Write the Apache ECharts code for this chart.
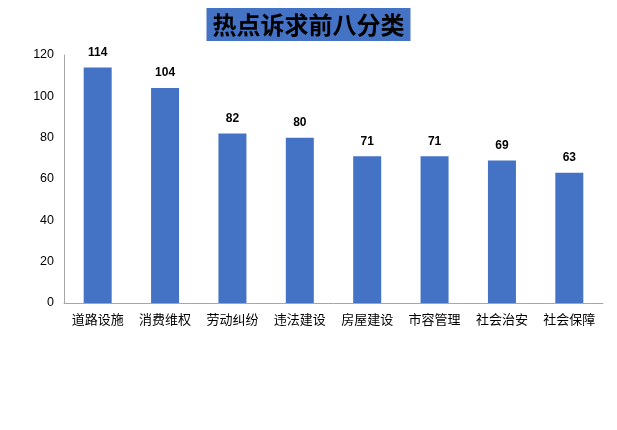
<!DOCTYPE html>
<html><head><meta charset="utf-8">
<script src="https://cdn.jsdelivr.net/npm/echarts@6/dist/echarts.min.js"></script>
<style>html,body{margin:0;padding:0;background:#fff}#c{width:617px;height:430px}</style>
</head><body><div id="c"></div>
<script>
const titleText = '热点诉求前八分类';
const categories = ['道路设施','消费维权','劳动纠纷','违法建设','房屋建设','市容管理','社会治安','社会保障'];
const values = [114,104,82,80,71,71,69,63];
const yTicks = {min:0, max:120, interval:20};

const chart = echarts.init(document.getElementById('c'), null, {renderer:'canvas'});
chart.setOption({
  animation:false,
  backgroundColor:'#fff',
  title:{
    text:titleText, left:'center', top:8,
    backgroundColor:'#4472C4', padding:[3,6,3,6],
    textStyle:{fontFamily:'Noto Sans CJK SC', fontWeight:'bold', fontSize:24, color:'#000', lineHeight:27}
  },
  grid:{left:64, right:14, top:55, bottom:127, containLabel:false},
  xAxis:{
    type:'category', data:categories,
    axisLine:{lineStyle:{color:'#A6A6A6', width:1}},
    axisTick:{show:false},
    axisLabel:{color:'#000', fontSize:13, fontFamily:'Noto Sans CJK SC', margin:10, interval:0}
  },
  yAxis:{
    type:'value', min:yTicks.min, max:yTicks.max, interval:yTicks.interval,
    axisLine:{show:true, lineStyle:{color:'#A6A6A6', width:1}},
    axisTick:{show:false},
    splitLine:{show:false},
    axisLabel:{color:'#000', fontSize:12.5, fontFamily:'Liberation Sans', margin:10}
  },
  series:[{
    type:'bar', data:values, barWidth:28,
    itemStyle:{color:'#4472C4'},
    label:{show:true, position:'top', distance:9, color:'#000', fontWeight:'bold', fontSize:12, fontFamily:'Liberation Sans'}
  }]
});
</script></body></html>
